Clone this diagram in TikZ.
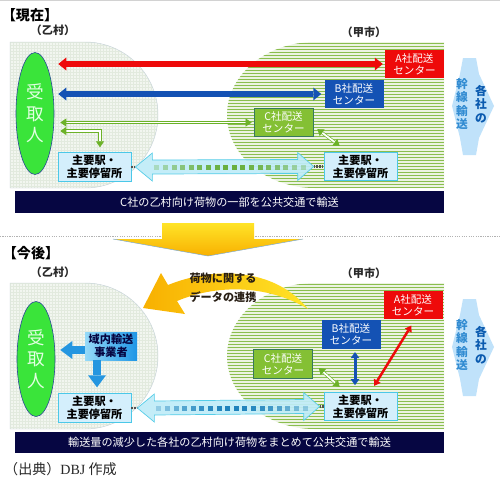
\documentclass[tikz,border=0pt]{standalone}
\usepackage{fontspec}
\setmainfont{Noto Sans CJK JP}
\newfontfamily\latinserif{Liberation Serif}
\usetikzlibrary{positioning, arrows.meta, shapes.geometric, calc}

\definecolor{aRed}{RGB}{238,10,10}
\definecolor{bBlue}{RGB}{20,82,180}
\definecolor{cGreen}{RGB}{132,192,52}
\definecolor{cEdge}{RGB}{55,120,95}
\definecolor{stFill}{RGB}{212,239,252}
\definecolor{stEdge}{RGB}{75,200,232}
\definecolor{bandNavy}{RGB}{6,6,66}
\definecolor{recvGreen}{RGB}{58,228,58}
\definecolor{recvEdge}{RGB}{40,70,150}
\definecolor{recvText}{RGB}{225,255,225}
\definecolor{vilFill}{RGB}{242,246,240}
\definecolor{vilGrid}{RGB}{226,234,222}
\definecolor{vilEdge}{RGB}{200,212,218}
\definecolor{cityFill}{RGB}{236,243,226}
\definecolor{cityStripe}{RGB}{138,190,78}
\definecolor{lineGreen}{RGB}{108,178,40}
\definecolor{wideFill}{RGB}{192,236,248}
\definecolor{wideEdge}{RGB}{85,205,232}
\definecolor{sqGreen}{RGB}{100,172,52}
\definecolor{sqBlue}{RGB}{22,125,185}
\definecolor{stubGray}{RGB}{80,80,80}
\definecolor{haulLight}{RGB}{150,218,248}
\definecolor{haulDark}{RGB}{30,150,230}
\definecolor{haulArrow}{RGB}{36,150,224}
\definecolor{trunkFill}{RGB}{192,226,250}
\definecolor{trunkDark}{RGB}{10,90,175}
\definecolor{trunkLight}{RGB}{50,140,210}
\definecolor{sunTop}{RGB}{255,228,40}
\definecolor{sunBottom}{RGB}{248,176,0}
\definecolor{sunEdge}{RGB}{120,170,220}
\definecolor{dataText}{RGB}{40,30,20}
\definecolor{labelText}{RGB}{40,40,40}

\newcommand\villagepath{(10,42) -- (85,42) .. controls (125.3,42) and (158,74.7) .. (158,115) .. controls (158,155.3) and (125.3,188) .. (85,188) -- (10,188) -- cycle}
\newcommand\citypath{(444,42) -- (315,42) .. controls (266.4,42) and (227,74.7) .. (227,115) .. controls (227,155.3) and (266.4,188) .. (315,188) -- (444,188) -- cycle}
\newcommand\trunkpath{(463,58) -- (476,58) -- (479,74) -- (494,106) -- (479,138) -- (476,155) -- (463,155) -- (460,138) -- (452,106) -- (460,74) -- cycle}
\newcommand\widearrow[3]{\filldraw[wide] (#1) -- ++(17,-14) -- ++(0,7) -- ($(#2)+(-16,-7)$) -- ++(0,-7) -- (#2) -- ++(-16,14) -- ++(0,-7) -- ($(#1)+(17,7)$) -- ++(0,7) -- cycle;
	\foreach \x in {0,8.6,...,150} {
		\pgfmathsetmacro\op{0.2+0.75*sin((\x+6)*1.125)}
		\fill[#3, opacity=\op] ($(#1)+(\x+19,-2.5)$) rectangle ++(5,5);
	}}

\tikzset{
	depot/.style={rectangle, minimum width=17.7mm, minimum height=8.6mm, inner sep=0pt, align=center, text=white, font=\fontsize{9}{10.5}\selectfont},
	station/.style={rectangle, draw=stEdge, fill=stFill, line width=0.6pt, minimum width=21.9mm, minimum height=8.6mm, inner sep=0pt, align=center, text=black, font=\bfseries\fontsize{9.5}{11}\selectfont},
	recv/.style={ellipse, draw=recvEdge, line width=0.5pt, fill=recvGreen, minimum width=11.4mm, minimum height=36.6mm, inner sep=0pt, align=center, text=recvText, font=\fontsize{15}{18.5}\selectfont},
	band/.style={rectangle, fill=bandNavy, minimum width=128.7mm, minimum height=6.5mm, inner sep=0pt, text=white, font=\fontsize{9.5}{11}\selectfont},
	place/.style={text=labelText, font=\bfseries\fontsize{9.5}{11}\selectfont, inner sep=0pt},
	headline/.style={text=black, font=\bfseries\fontsize{12}{14}\selectfont, inner sep=0pt},
	trunktext/.style={font=\bfseries\fontsize{10}{11.5}\selectfont, align=center, inner sep=0pt},
	datatext/.style={text=dataText, font=\bfseries\fontsize{9.5}{16}\selectfont, align=center, inner sep=0pt},
	haulbox/.style={rectangle, left color=haulLight, right color=haulDark, minimum width=15.6mm, minimum height=8.4mm, inner sep=0pt, align=center, text=bandNavy, font=\bfseries\fontsize{9.5}{11}\selectfont},
	redarr/.style={draw=aRed, line width=1.65mm, >={Triangle[length=2.4mm,width=3.9mm,line width=0pt]}, <->},
	bluearr/.style={draw=bBlue, line width=1.65mm, >={Triangle[length=2.4mm,width=3.9mm,line width=0pt]}, <->},
	greenarr/.style={draw=lineGreen, line width=0.55pt, double=white, double distance=1.5pt, >={Triangle[length=1.8mm,width=2.4mm]}, <->},
	blkarr/.style={draw=haulArrow, line width=2.4mm, -{Triangle[length=3.6mm,width=5.4mm,line width=0pt]}},
	bluethin/.style={draw=bBlue, line width=0.9mm, >={Triangle[length=1.8mm,width=2.6mm,line width=0pt]}, <->},
	redthin/.style={draw=aRed, line width=0.75mm, >={Triangle[length=1.8mm,width=2.4mm,line width=0pt]}, <->},
	wide/.style={fill=wideFill, draw=wideEdge, line width=0.6pt, fill opacity=0.92},
	stub/.style={draw=stubGray, line width=2.2pt, dash pattern=on 1.5pt off 0.8pt}
}

\begin{document}
\begin{tikzpicture}[x=0.3mm, y=-0.3mm, node distance=5.7mm, on grid]
	\useasboundingbox (0,0) rectangle (500,483);
	\fill[white] (0,0) rectangle (500,483);
	\draw[gray!35, line width=0.6pt] (0,0.5) -- (500,0.5);

	\foreach \dy in {0,241} {
		\begin{scope}[shift={(0,\dy)}]
			\fill[vilFill] \villagepath;
			\begin{scope}
				\clip \villagepath;
				\foreach \g in {10,13,...,160} \draw[vilGrid, line width=0.3pt] (\g,42) -- (\g,188);
				\foreach \g in {42,45,...,188} \draw[vilGrid, line width=0.3pt] (10,\g) -- (160,\g);
			\end{scope}
			\draw[vilEdge, line width=0.4pt] \villagepath;
			\fill[cityFill] \citypath;
			\begin{scope}
				\clip \citypath;
				\foreach \g in {43.5,46.5,...,188} \draw[cityStripe, line width=0.45mm] (225,\g) -- (444,\g);
			\end{scope}
			\fill[trunkFill] \trunkpath;
		\end{scope}
	}

	\node[headline] (now) at (30,15) {【現在】};
	\node[place] (vil1) at (53,30) {（乙村）};
	\node[place] (city1) at (364,32) {（甲市）};
	\node[recv] (rcv1) at (35,113.5) {受\\取\\人};
	\node[depot, fill=aRed] (a1) at (414.5,64) {A社配送\\センター};
	\node[depot, fill=bBlue] (b1) at (354,94) {B社配送\\センター};
	\node[depot, fill=cGreen, draw=cEdge, line width=0.6pt] (c1) at (283.5,122.5) {C社配送\\センター};
	\node[station] (s1) at (94.5,167) {主要駅・\\主要停留所};
	\node[station] (s2) at (360.5,166.5) {主要駅・\\主要停留所};
	\node[band] (band1) at (229.5,202) {C社の乙村向け荷物の一部を公共交通で輸送};
	\node[trunktext, text=trunkDark] (k1) at (481,104) {各\\社\\の};
	\node[trunktext, text=trunkLight] (m1) [left=of k1] {幹\\線\\輸\\送};

	\draw[redarr, shorten <=1.2mm, shorten >=0.6mm] (a1.west -| rcv1.east) -- (a1.west);
	\draw[bluearr, shorten <=1.2mm, shorten >=0.9mm] (b1.west -| rcv1.east) -- (b1.west);
	\draw[greenarr, shorten <=1.8mm, shorten >=0.6mm] (c1.west -| rcv1.east) -- (c1.west);
	\draw[greenarr, shorten <=1.8mm, shorten >=1.5mm] ([yshift=-5.25mm]rcv1.east) -| ([xshift=1.65mm]s1.north);
	\draw[greenarr] ([shift={(1.2mm,-2mm)}]c1.east) -- ([shift={(4.8mm,1.8mm)}]s2.north west);
	\coordinate (w1l) at ([xshift=1.2mm]s1.east);
	\coordinate (w1r) at ([xshift=-3mm]s2.west);
	\draw[stub] (s1.east) -- (w1l);
	\draw[stub] (w1r) -- (s2.west);
	\widearrow{w1l}{w1r}{sqGreen}

	\draw[gray!60, line width=0.5pt, dash pattern=on 1pt off 1pt] (0,236) -- (500,236);
	\shade[top color=sunTop, bottom color=sunBottom] (162,223) -- (254,223) -- (254,239) -- (303,239) -- (208,256) -- (113,239) -- (162,239) -- cycle;
	\draw[sunEdge, line width=0.4pt] (303,239) -- (208,256) -- (113,239);

	\node[headline] (later) at (31,253) {【今後】};
	\node[place] (vil2) at (53,272) {（乙村）};
	\node[place] (city2) at (364,273) {（甲市）};
	\shade[left color=sunBottom, right color=sunTop] (143,308) -- (161,273) -- (168,285) .. controls (215,266) and (275,268) .. (308,309) .. controls (270,286) and (220,283) .. (177,301) -- (185,314) -- cycle;
	\node[datatext] (data) at (223,288) {荷物に関する\\データの連携};
	\node[recv, minimum height=34.5mm] (rcv2) at (36,359) {受\\取\\人};
	\node[haulbox] (haul) at (111,346) {域内輸送\\事業者};
	\node[depot, fill=aRed] (a2) at (413,305) {A社配送\\センター};
	\node[depot, fill=bBlue] (b2) at (351,334.5) {B社配送\\センター};
	\node[depot, fill=cGreen, draw=cEdge, line width=0.6pt] (c2) at (283,364) {C社配送\\センター};
	\node[station] (s3) at (94.5,408) {主要駅・\\主要停留所};
	\node[station] (s4) at (360.5,406.5) {主要駅・\\主要停留所};
	\node[band] (band2) at (229.5,442.5) {輸送量の減少した各社の乙村向け荷物をまとめて公共交通で輸送};
	\node[trunktext, text=trunkDark] (k2) at (481,345) {各\\社\\の};
	\node[trunktext, text=trunkLight] (m2) [left=of k2] {幹\\線\\輸\\送};

	\draw[blkarr, shorten >=1.5mm] ([yshift=-1.2mm]haul.west) -- ([yshift=-1.2mm]haul.west -| rcv2.east);
	\draw[blkarr, shorten >=1.8mm] ([xshift=-4.2mm]haul.south) -- ([xshift=-4.2mm]haul.south |- s3.north);
	\draw[bluethin, shorten <=0.9mm, shorten >=2mm] ([xshift=1.2mm]b2.south) -- ([xshift=1.2mm]b2.south |- s4.north);
	\draw[redthin, shorten <=2.1mm, shorten >=2.1mm] ([xshift=3mm]s4.north) -- ([xshift=0.6mm]a2.south);
	\draw[greenarr] ([shift={(1.8mm,-1.2mm)}]c2.east) -- ([shift={(4.8mm,1.5mm)}]s4.north west);
	\coordinate (w2l) at ([xshift=1.8mm]s3.east);
	\coordinate (w2r) at ([xshift=-1.2mm]s4.west);
	\draw[stub] (s3.east) -- (w2l);
	\draw[stub] (w2r) -- (s4.west);
	\widearrow{w2l}{w2r}{sqBlue}

	\node[anchor=west, text=labelText, font=\fontsize{12}{14}\selectfont, inner sep=0pt] (src) at (4,469) {（出典）{\latinserif DBJ} 作成};
\end{tikzpicture}
\end{document}
